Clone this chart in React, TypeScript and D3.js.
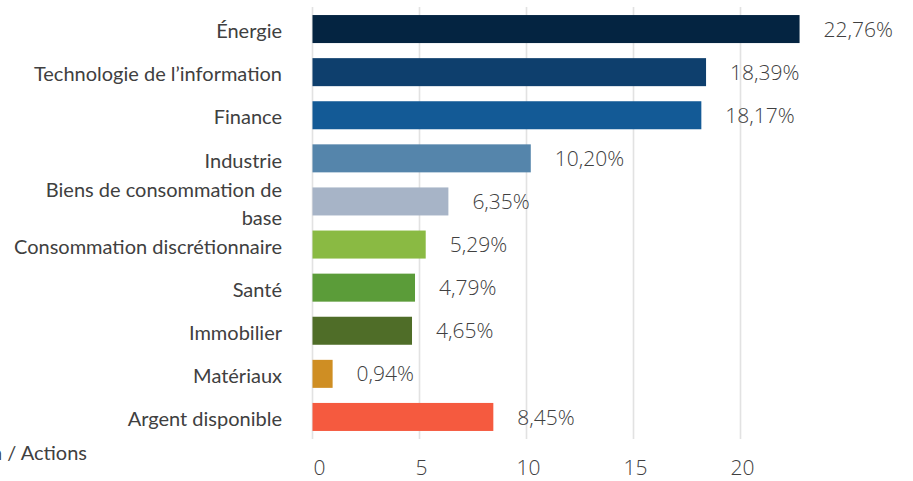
import React from "react";
import * as d3 from "d3";

const categories: string[][] = [
  ["Énergie"],
  ["Technologie de l’information"],
  ["Finance"],
  ["Industrie"],
  ["Biens de consommation de", "base"],
  ["Consommation discrétionnaire"],
  ["Santé"],
  ["Immobilier"],
  ["Matériaux"],
  ["Argent disponible"],
];
const values: number[] = [22.76, 18.39, 18.17, 10.2, 6.35, 5.29, 4.79, 4.65, 0.94, 8.45];
const colors: string[] = [
  "#042441", "#0e3f6d", "#135a96", "#5585ab", "#a7b4c7",
  "#8aba43", "#5b9c39", "#4f6d28", "#cf8e23", "#f55a3f",
];
const ticks: number[] = [0, 5, 10, 15, 20];
const axisNote = "n / Actions";

const W = 913;
const H = 481;

export default function App() {
  const x = d3.scaleLinear().domain([0, 20]).range([312.5, 740.5]);
  const y = d3
    .scaleBand<number>()
    .domain(d3.range(values.length))
    .range([7.5, 438.5])
    .paddingInner(0.35)
    .paddingOuter(0.175);
  const fmt = (v: number) => v.toFixed(2).replace(".", ",") + "%";
  const textColor = "#404040";
  return (
    <svg
      width={W}
      height={H}
      style={{ position: "absolute", left: 0, top: 0, background: "#fff" }}
    >
      {ticks.map((t) => (
        <line
          key={"g" + t}
          x1={x(t)}
          x2={x(t)}
          y1={7}
          y2={439}
          stroke="#e2e2e2"
          strokeWidth={1.6}
        />
      ))}
      {values.map((v, i) => (
        <rect
          key={"b" + i}
          x={x(0)}
          y={y(i)!}
          width={x(v) - x(0)}
          height={y.bandwidth()}
          fill={colors[i]}
        />
      ))}
      {values.map((v, i) => (
        <text
          key={"v" + i}
          x={x(v) + 24}
          y={y(i)! + y.bandwidth() / 2}
          dy="0.36em"
          fontFamily="'Open Sans', sans-serif"
          fontWeight={300}
          fontSize={21}
          fill={textColor}
        >
          {fmt(v)}
        </text>
      ))}
      {categories.map((lines, i) => {
        const cy = y(i)! + y.bandwidth() / 2;
        const lh = 28;
        const start = cy - ((lines.length - 1) * lh) / 2;
        return (
          <text
            key={"c" + i}
            x={282}
            textAnchor="end"
            fontFamily="Lato, sans-serif"
            fontSize={20}
            fill={textColor}
          >
            {lines.map((l, j) => (
              <tspan key={j} x={282} y={start + j * lh + 2} dy="0.36em">
                {l}
              </tspan>
            ))}
          </text>
        );
      })}
      {ticks.map((t) => (
        <text
          key={"t" + t}
          x={x(t) + (t === 0 ? 7 : 2)}
          y={467}
          dy="0.36em"
          textAnchor="middle"
          fontFamily="'Open Sans', sans-serif"
          fontWeight={300}
          fontSize={21}
          fill={textColor}
        >
          {t}
        </text>
      ))}
      <text
        x={87}
        y={453}
        dy="0.36em"
        textAnchor="end"
        fontFamily="Lato, sans-serif"
        fontSize={20}
        fill={textColor}
      >
        {axisNote}
      </text>
    </svg>
  );
}
